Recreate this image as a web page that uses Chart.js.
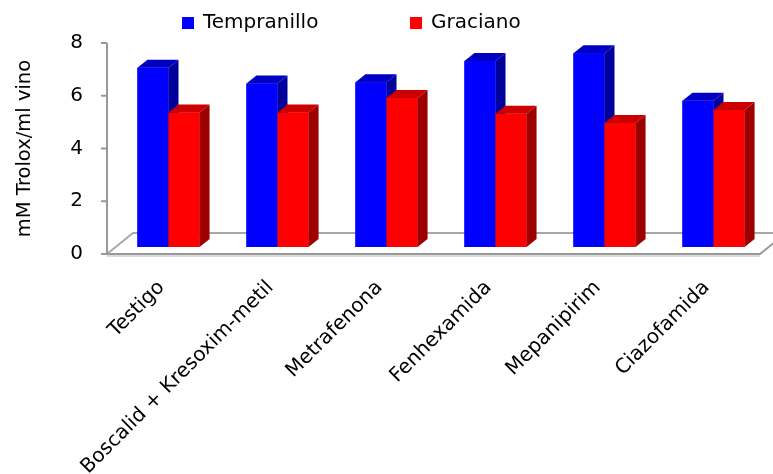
<!DOCTYPE html>
<html>
<head>
<meta charset="utf-8">
<script src="https://cdn.jsdelivr.net/npm/chart.js@4.4.1/dist/chart.umd.min.js"></script>
<style>
  body { margin: 0; background: #fff; }
  #wrap { width: 773px; height: 474px; }
</style>
</head>
<body>
<div id="wrap"><canvas id="chart" width="773" height="474"></canvas></div>
<script>
// datos
const categories = ["Testigo", "Boscalid + Kresoxim-metil", "Metrafenona", "Fenhexamida", "Mepanipirim", "Ciazofamida"];
const tempranillo = [6.8, 6.2, 6.25, 7.05, 7.35, 5.55];
const graciano = [5.1, 5.1, 5.65, 5.05, 4.7, 5.2];
const yTicks = [0, 2, 4, 6, 8];

const FONT = "'DejaVu Sans', sans-serif";
const DEPTH_X = 10, DEPTH_Y = 8;      // profundidad de cada barra
const FLOOR_X = 26, FLOOR_Y = 21;     // profundidad del suelo
const FLOOR_LIFT = 7 / 26.5;          // las barras empiezan un poco detrás del borde frontal

// suelo, eje y marcas
const floorPlugin = {
  id: "floor",
  beforeDatasetsDraw(chart) {
    const { ctx, chartArea: a, scales } = chart;
    const y = scales.y;
    const x0 = a.left - 7;
    const y0 = y.getPixelForValue(0);
    const x1 = a.right - 8;
    ctx.save();
    ctx.lineWidth = 2;
    // sombra del borde frontal
    ctx.strokeStyle = "#dcdcdc";
    ctx.beginPath();
    ctx.moveTo(x0, y0 + 2);
    ctx.lineTo(x1, y0 + 2);
    ctx.stroke();
    // borde posterior y diagonal izquierda
    ctx.strokeStyle = "#a8a8a8";
    ctx.beginPath();
    ctx.moveTo(x0, y0);
    ctx.lineTo(x0 + FLOOR_X, y0 - FLOOR_Y);
    ctx.lineTo(x1 + FLOOR_X, y0 - FLOOR_Y);
    ctx.stroke();
    // borde frontal
    ctx.strokeStyle = "#999";
    ctx.beginPath();
    ctx.moveTo(x0, y0);
    ctx.lineTo(x1, y0);
    ctx.lineTo(x1 + FLOOR_X, y0 - FLOOR_Y);
    ctx.stroke();
    // eje vertical
    ctx.beginPath();
    ctx.moveTo(x0, y.getPixelForValue(yTicks[yTicks.length - 1]));
    ctx.lineTo(x0, y0);
    yTicks.forEach(v => {
      const p = y.getPixelForValue(v);
      ctx.moveTo(x0 - 6, p);
      ctx.lineTo(x0, p);
    });
    ctx.stroke();
    ctx.restore();
  }
};

// barras con caras superior y lateral (efecto 3D), de izquierda a derecha
const depthPlugin = {
  id: "depth",
  afterDatasetsDraw(chart) {
    const ctx = chart.ctx;
    ctx.save();
    chart.data.datasets.forEach((ds, i) => {
      chart.getDatasetMeta(i).data.forEach(bar => {
        bar.draw(ctx);
        const { x, y, base, width } = bar.getProps(["x", "y", "base", "width"], true);
        const l = x - width / 2, r = x + width / 2;
        ctx.fillStyle = ds.topColor;
        ctx.beginPath();
        ctx.moveTo(l, y);
        ctx.lineTo(l + DEPTH_X, y - DEPTH_Y);
        ctx.lineTo(r + DEPTH_X, y - DEPTH_Y);
        ctx.lineTo(r, y);
        ctx.closePath();
        ctx.fill();
        ctx.fillStyle = ds.sideColor;
        ctx.beginPath();
        ctx.moveTo(r, y);
        ctx.lineTo(r + DEPTH_X, y - DEPTH_Y);
        ctx.lineTo(r + DEPTH_X, base - DEPTH_Y);
        ctx.lineTo(r, base);
        ctx.closePath();
        ctx.fill();
      });
    });
    ctx.restore();
  }
};

// leyenda arriba
const legendPlugin = {
  id: "topLegend",
  afterDraw(chart) {
    const ctx = chart.ctx;
    const boxX = [182, 410];
    ctx.save();
    ctx.font = "20px " + FONT;
    ctx.textBaseline = "middle";
    chart.data.datasets.forEach((ds, i) => {
      ctx.fillStyle = ds.backgroundColor;
      ctx.fillRect(boxX[i], 17, 12, 12);
      ctx.fillStyle = "#000";
      ctx.fillText(ds.label, boxX[i] + 21, 23);
    });
    ctx.restore();
  }
};

const ctx = document.getElementById("chart").getContext("2d");
new Chart(ctx, {
  type: "bar",
  data: {
    labels: categories,
    datasets: [
      {
        label: "Tempranillo",
        data: tempranillo,
        backgroundColor: "#0000ff",
        topColor: "#0000c4",
        sideColor: "#00009c",
        yAxisID: "yb"
      },
      {
        label: "Graciano",
        data: graciano,
        backgroundColor: "#ff0000",
        topColor: "#cc0000",
        sideColor: "#9c0000",
        yAxisID: "yb"
      }
    ]
  },
  options: {
    responsive: false,
    animation: false,
    layout: { padding: { top: 42, right: 5, left: 0, bottom: 0 } },
    datasets: { bar: { categoryPercentage: 0.57, barPercentage: 1 } },
    plugins: {
      legend: { display: false },
      tooltip: { enabled: false }
    },
    scales: {
      x: {
        grid: { display: false },
        border: { display: false },
        ticks: {
          autoSkip: false,
          minRotation: 45,
          maxRotation: 45,
          padding: 14,
          labelOffset: -7,
          color: "#000",
          font: { family: FONT, size: 20 }
        },
        afterFit: s => { s.height = 220; }
      },
      y: {
        position: "left",
        min: 0,
        max: 8,
        ticks: {
          stepSize: 2,
          padding: 31,
          color: "#000",
          font: { family: FONT, size: 20 }
        },
        grid: { display: false, drawTicks: false },
        border: { display: false },
        title: {
          display: true,
          text: "mM Trolox/ml vino",
          color: "#000",
          font: { family: FONT, size: 19.5 },
          padding: { top: 13, bottom: 0 }
        },
        afterFit: s => { s.width = 114; }
      },
      yb: {
        display: false,
        min: -FLOOR_LIFT,
        max: 8 - FLOOR_LIFT
      }
    }
  },
  plugins: [floorPlugin, depthPlugin, legendPlugin]
});
</script>
</body>
</html>
